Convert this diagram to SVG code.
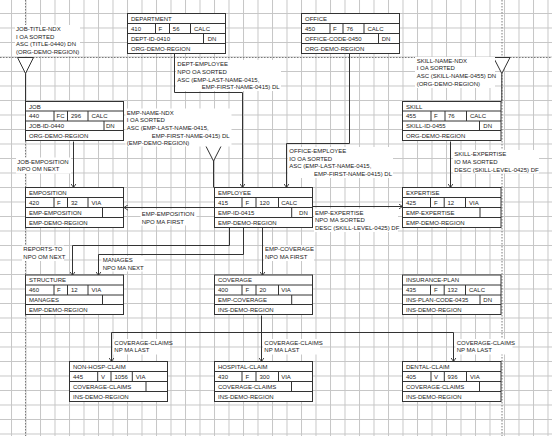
<svg xmlns="http://www.w3.org/2000/svg" width="552" height="436" viewBox="0 0 552 436">
<style>
text{font-family:"Liberation Sans",Arial,sans-serif;font-size:6px;fill:#222}
.box{fill:#fff;stroke:#333;stroke-width:1}
.div{fill:none;stroke:#333;stroke-width:1}
.con{fill:none;stroke:#333;stroke-width:1}
.arr{marker-end:url(#arr)}
.lbg{fill:#fff}
.pb{fill:none;stroke:#7a7a7a;stroke-width:1;stroke-dasharray:1.5 1.5}
.tri{fill:#fff;stroke:#333;stroke-width:1}
</style>
<defs>
<pattern id="grid" x="11" y="13" width="14.5" height="14.5" patternUnits="userSpaceOnUse">
<path d="M0 0.5H14.5M0.5 0V14.5" fill="none" stroke="#c6c6c6" stroke-width="1"/>
</pattern>
<marker id="arr" viewBox="0 0 4 6" refX="4" refY="3" markerWidth="4" markerHeight="6" orient="auto" markerUnits="userSpaceOnUse">
<path d="M0,0.3 L4,3 L0,5.7" fill="none" stroke="#333" stroke-width="0.9"/>
</marker>
</defs>
<rect width="552" height="436" fill="#fff"/>
<rect width="552" height="436" fill="url(#grid)"/>
<g id="page-breaks">
<path class="pb" d="M0 57.5H552M25.5 0V436M502 0V436"/>
</g>

<g id="connectors">
<polygon class="tri" points="17.5,57.5 33.5,57.5 25.5,73.5"/>
<path class="con" d="M25.5 73.5V101.5"/>
<polygon class="tri" points="493.5,57.5 510,57.5 501.8,73.5"/>
<path class="con" d="M501.8 73.5V101.5"/>
<polygon class="tri" points="205.3,145 221.7,145 213.5,161"/>
<path class="con" d="M213.5 161V187.5"/>
<path class="con arr" d="M174.5 53.5V92.5H242.5V187.5"/>
<path class="con arr" d="M349.5 53.5V143.5H286.5V187.5"/>
<path class="con arr" d="M73.5 141.5V187.5"/>
<path class="con arr" d="M450.5 141.5V187.5"/>
<path class="con arr" d="M214.5 207.5H124"/>
<path class="con arr" d="M312.5 206.5H402.5"/>
<path class="con arr" d="M229.5 227.5V245.5H72.5V275.5"/>
<path class="con arr" d="M243.5 227.5V254.5H98.5V275.5"/>
<path class="con arr" d="M262.5 227.5V275.5"/>
<path class="con" d="M111.5 332.5H453.5"/>
<path class="con arr" d="M261.5 315.5V361.5"/>
<path class="con arr" d="M111.5 332.5V361.5"/>
<path class="con arr" d="M453.5 332.5V361.5"/>
</g>

<g id="labels">
<g id="lbl-job-title-ndx">
<rect class="lbg" x="15" y="25" width="65" height="31"/>
<text x="16" y="31.1">JOB-TITLE-NDX</text>
<text x="16" y="38.7">I OA SORTED</text>
<text x="16" y="46.3">ASC (TITLE-0440) DN</text>
<text x="16" y="53.9">(ORG-DEMO-REGION)</text>
</g>
<g id="lbl-dept-employee">
<rect class="lbg" x="176" y="60" width="105" height="31"/>
<text x="177.3" y="66.4">DEPT-EMPLOYEE</text>
<text x="177.3" y="74">NPO OA SORTED</text>
<text x="177.3" y="81.6">ASC (EMP-LAST-NAME-0415,</text>
<text x="201.7" y="89.2">EMP-FIRST-NAME-0415) DL</text>
</g>
<g id="lbl-skill-name-ndx">
<rect class="lbg" x="415" y="57" width="80" height="31"/>
<text x="416.7" y="62.8">SKILL-NAME-NDX</text>
<text x="416.7" y="70.4">I OA SORTED</text>
<text x="416.7" y="78">ASC (SKILL-NAME-0455) DN</text>
<text x="416.7" y="85.6">(ORG-DEMO-REGION)</text>
</g>
<g id="lbl-emp-name-ndx">
<rect class="lbg" x="125.5" y="108.5" width="106" height="38"/>
<text x="126.7" y="114.8">EMP-NAME-NDX</text>
<text x="126.7" y="122.4">I OA SORTED</text>
<text x="126.7" y="130">ASC (EMP-LAST-NAME-0415,</text>
<text x="151.7" y="137.6">EMP-FIRST-NAME-0415) DL</text>
<text x="126.7" y="145.2">(EMP-DEMO-REGION)</text>
</g>
<g id="lbl-job-emposition">
<rect class="lbg" x="16" y="157.5" width="55" height="16"/>
<text x="17.3" y="163.8">JOB-EMPOSITION</text>
<text x="17.3" y="171.4">NPO OM NEXT</text>
</g>
<g id="lbl-office-employee">
<rect class="lbg" x="288" y="147" width="105" height="31"/>
<text x="289.3" y="153.1">OFFICE-EMPLOYEE</text>
<text x="289.3" y="160.7">IO OA SORTED</text>
<text x="289.3" y="168.3">ASC (EMP-LAST-NAME-0415,</text>
<text x="314" y="175.9">EMP-FIRST-NAME-0415) DL</text>
</g>
<g id="lbl-skill-expertise">
<rect class="lbg" x="453" y="150" width="86" height="23.5"/>
<text x="454.3" y="156.4">SKILL-EXPERTISE</text>
<text x="454.3" y="164">IO MA SORTED</text>
<text x="454.3" y="171.6">DESC (SKILL-LEVEL-0425) DF</text>
</g>
<g id="lbl-emp-emposition">
<rect class="lbg" x="140.5" y="209.5" width="56" height="16"/>
<text x="141.7" y="215.6">EMP-EMPOSITION</text>
<text x="141.7" y="223.6">NPO MA FIRST</text>
</g>
<g id="lbl-emp-expertise">
<rect class="lbg" x="314" y="208.5" width="84" height="23.5"/>
<text x="315" y="214.8">EMP-EXPERTISE</text>
<text x="315" y="222.4">NPO MA SORTED</text>
<text x="315" y="230">DESC (SKILL-LEVEL-0425) DF</text>
</g>
<g id="lbl-reports-to">
<rect class="lbg" x="22" y="245.5" width="42" height="15.5"/>
<text x="23.3" y="251.4">REPORTS-TO</text>
<text x="23.3" y="259">NPO OM NEXT</text>
</g>
<g id="lbl-manages">
<rect class="lbg" x="101.5" y="256" width="43" height="15.5"/>
<text x="102.7" y="262.1">MANAGES</text>
<text x="102.7" y="269.7">NPO MA NEXT</text>
</g>
<g id="lbl-emp-coverage">
<rect class="lbg" x="264" y="245.5" width="50" height="15.5"/>
<text x="265" y="251.4">EMP-COVERAGE</text>
<text x="265" y="259">NPO MA FIRST</text>
</g>
<g id="lbl-coverage-claims-1">
<rect class="lbg" x="113" y="339" width="57" height="15.5"/>
<text x="114.3" y="344.8">COVERAGE-CLAIMS</text>
<text x="114.3" y="352.4">NP MA LAST</text>
</g>
<g id="lbl-coverage-claims-2">
<rect class="lbg" x="263" y="339" width="57" height="15.5"/>
<text x="264.3" y="344.8">COVERAGE-CLAIMS</text>
<text x="264.3" y="352.4">NP MA LAST</text>
</g>
<g id="lbl-coverage-claims-3">
<rect class="lbg" x="455.5" y="339" width="57" height="15.5"/>
<text x="456.7" y="344.8">COVERAGE-CLAIMS</text>
<text x="456.7" y="352.4">NP MA LAST</text>
</g>
</g>

<g id="department" transform="translate(127.5,13.5)">
<rect class="box" width="98" height="40"/>
<path class="div" d="M0 10H98M0 20H98M0 30H98M28 10V20M42 10V20M63 10V20M76 20V30"/>
<text x="3.5" y="7.2">DEPARTMENT</text>
<text x="3.5" y="17.2">410</text><text x="31" y="17.2">F</text><text x="45.3" y="17.2">56</text><text x="66.5" y="17.2">CALC</text>
<text x="3.5" y="27.2">DEPT-ID-0410</text><text x="80.2" y="27.2">DN</text>
<text x="3.5" y="37.2">ORG-DEMO-REGION</text>
</g>
<g id="office" transform="translate(301.5,13.5)">
<rect class="box" width="98" height="40"/>
<path class="div" d="M0 10H98M0 20H98M0 30H98M28.5 10V20M41.5 10V20M62.5 10V20M77 20V30"/>
<text x="3.5" y="7.2">OFFICE</text>
<text x="3.5" y="17.2">450</text><text x="31.5" y="17.2">F</text><text x="45" y="17.2">76</text><text x="66" y="17.2">CALC</text>
<text x="3.5" y="27.2">OFFICE-CODE-0450</text><text x="80.2" y="27.2">DN</text>
<text x="3.5" y="37.2">ORG-DEMO-REGION</text>
</g>
<g id="job" transform="translate(25.5,101.5)">
<rect class="box" width="98" height="39"/>
<path class="div" d="M0 9.5H98M0 19.5H98M0 29H98M28.5 9.5V19.5M42 9.5V19.5M62.5 9.5V19.5M78.5 19.5V29"/>
<text x="3.5" y="7">JOB</text>
<text x="3.5" y="16.8">440</text><text x="31" y="16.8">FC</text><text x="45.5" y="16.8">296</text><text x="66" y="16.8">CALC</text>
<text x="3.5" y="26.6">JOB-ID-0440</text><text x="80.5" y="26.6">DN</text>
<text x="3.5" y="36.4">ORG-DEMO-REGION</text>
</g>
<g id="skill" transform="translate(402.5,101.5)">
<rect class="box" width="98.5" height="39"/>
<path class="div" d="M0 9.5H98.5M0 19.5H98.5M0 29H98.5M28.5 9.5V19.5M42.5 9.5V19.5M64 9.5V19.5M77 19.5V29"/>
<text x="3.5" y="7">SKILL</text>
<text x="3.5" y="16.8">455</text><text x="31.5" y="16.8">F</text><text x="45.5" y="16.8">76</text><text x="67.5" y="16.8">CALC</text>
<text x="3.5" y="26.6">SKILL-ID-0455</text><text x="80.8" y="26.6">DN</text>
<text x="3.5" y="36.4">ORG-DEMO-REGION</text>
</g>
<g id="emposition" transform="translate(25.5,187.5)">
<rect class="box" width="98" height="40"/>
<path class="div" d="M0 10H98M0 20H98M0 30H98M28.5 10V20M42 10V20M62.5 10V20M77 20V30"/>
<text x="3.5" y="7.2">EMPOSITION</text>
<text x="3.5" y="17.2">420</text><text x="31.5" y="17.2">F</text><text x="45.5" y="17.2">32</text><text x="66" y="17.2">VIA</text>
<text x="3.5" y="27.2">EMP-EMPOSITION</text>
<text x="3.5" y="37.2">EMP-DEMO-REGION</text>
</g>
<g id="employee" transform="translate(214.5,187.5)">
<rect class="box" width="98" height="40"/>
<path class="div" d="M0 10H98M0 20H98M0 30H98M27.5 10V20M41.5 10V20M64 10V20M77.2 20V30"/>
<text x="3.5" y="7.2">EMPLOYEE</text>
<text x="3.5" y="17.2">415</text><text x="31" y="17.2">F</text><text x="45" y="17.2">120</text><text x="66.7" y="17.2">CALC</text>
<text x="3.5" y="27.2">EMP-ID-0415</text><text x="84.6" y="27.2">DN</text>
<text x="3.5" y="37.2">EMP-DEMO-REGION</text>
</g>
<g id="expertise" transform="translate(402.5,187.5)">
<rect class="box" width="98.5" height="40"/>
<path class="div" d="M0 10H98.5M0 20H98.5M0 30H98.5M28 10V20M41.7 10V20M63 10V20M77.5 20V30"/>
<text x="3.5" y="7.2">EXPERTISE</text>
<text x="3.5" y="17.2">425</text><text x="31.5" y="17.2">F</text><text x="45" y="17.2">12</text><text x="66.5" y="17.2">VIA</text>
<text x="3.5" y="27.2">EMP-EXPERTISE</text>
<text x="3.5" y="37.2">EMP-DEMO-REGION</text>
</g>
<g id="structure" transform="translate(25.5,275)">
<rect class="box" width="98" height="39.5"/>
<path class="div" d="M0 10H98M0 20H98M0 29.5H98M28.5 10V20M42 10V20M62.5 10V20M77 20V29.5"/>
<text x="3.5" y="7.2">STRUCTURE</text>
<text x="3.5" y="17.2">460</text><text x="31.5" y="17.2">F</text><text x="45.5" y="17.2">12</text><text x="66" y="17.2">VIA</text>
<text x="3.5" y="27">MANAGES</text>
<text x="3.5" y="36.8">EMP-DEMO-REGION</text>
</g>
<g id="coverage" transform="translate(214.5,275)">
<rect class="box" width="98" height="39.5"/>
<path class="div" d="M0 10H98M0 20H98M0 29.5H98M27.5 10V20M41.5 10V20M64 10V20M77.2 20V29.5"/>
<text x="3.5" y="7.2">COVERAGE</text>
<text x="3.5" y="17.2">400</text><text x="31" y="17.2">F</text><text x="45" y="17.2">20</text><text x="66.7" y="17.2">VIA</text>
<text x="3.5" y="27">EMP-COVERAGE</text>
<text x="3.5" y="36.8">INS-DEMO-REGION</text>
</g>
<g id="insurance-plan" transform="translate(402.5,275)">
<rect class="box" width="98.5" height="39.5"/>
<path class="div" d="M0 10H98.5M0 20H98.5M0 29.5H98.5M28 10V20M41.7 10V20M63 10V20M77.5 20V29.5"/>
<text x="3.5" y="7.2">INSURANCE-PLAN</text>
<text x="3.5" y="17.2">435</text><text x="31.5" y="17.2">F</text><text x="45" y="17.2">132</text><text x="66.5" y="17.2">CALC</text>
<text x="3.5" y="27">INS-PLAN-CODE-0435</text><text x="80.8" y="27">DN</text>
<text x="3.5" y="36.8">INS-DEMO-REGION</text>
</g>
<g id="non-hosp-claim" transform="translate(69.5,361.5)">
<rect class="box" width="98" height="40"/>
<path class="div" d="M0 10H98M0 20H98M0 30H98M28.2 10V20M41.5 10V20M62.8 10V20M76.5 20V30"/>
<text x="3.5" y="7.2">NON-HOSP-CLAIM</text>
<text x="3.5" y="17.2">445</text><text x="31.5" y="17.2">V</text><text x="45" y="17.2">1056</text><text x="66.3" y="17.2">VIA</text>
<text x="3.5" y="27.2">COVERAGE-CLAIMS</text>
<text x="3.5" y="37.2">INS-DEMO-REGION</text>
</g>
<g id="hospital-claim" transform="translate(214.5,361.5)">
<rect class="box" width="98" height="40"/>
<path class="div" d="M0 10H98M0 20H98M0 30H98M27.5 10V20M41.5 10V20M64 10V20M77 20V30"/>
<text x="3.5" y="7.2">HOSPITAL-CLAIM</text>
<text x="3.5" y="17.2">430</text><text x="31" y="17.2">F</text><text x="45" y="17.2">300</text><text x="66.7" y="17.2">VIA</text>
<text x="3.5" y="27.2">COVERAGE-CLAIMS</text>
<text x="3.5" y="37.2">INS-DEMO-REGION</text>
</g>
<g id="dental-claim" transform="translate(402.5,361.5)">
<rect class="box" width="98.5" height="40"/>
<path class="div" d="M0 10H98.5M0 20H98.5M0 30H98.5M28.5 10V20M41.8 10V20M64 10V20M77 20V30"/>
<text x="3.5" y="7.2">DENTAL-CLAIM</text>
<text x="3.5" y="17.2">405</text><text x="31.5" y="17.2">V</text><text x="45" y="17.2">936</text><text x="67.5" y="17.2">VIA</text>
<text x="3.5" y="27.2">COVERAGE-CLAIMS</text>
<text x="3.5" y="37.2">INS-DEMO-REGION</text>
</g>
</svg>
